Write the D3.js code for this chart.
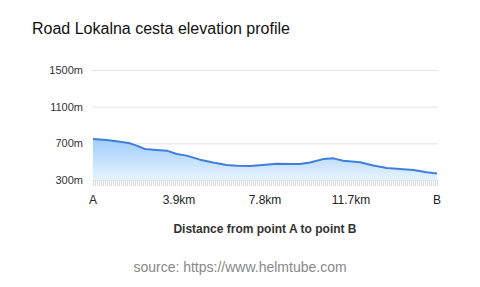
<!DOCTYPE html>
<html>
<head>
<meta charset="utf-8">
<script src="https://cdn.jsdelivr.net/npm/d3@7"></script>
<style>
  body { margin: 0; background: #fff; font-family: "Helvetica Neue", Arial, "Liberation Sans", sans-serif; }
</style>
</head>
<body>
<div class="chart"></div>
<script>
// distance along road (km) and elevation (m)
var distKm = [0, 0.62, 1.07, 1.68, 1.98, 2.36, 2.89, 3.34, 3.80, 4.25, 4.85, 5.44, 6.06, 6.52, 7.12, 7.57, 8.33, 8.9, 9.39, 9.84, 10.44, 10.9, 11.35, 12.11, 12.71, 13.32, 13.92, 14.53, 15.13, 15.6];
var elevM  = [748, 737, 722, 700, 675, 638, 628, 620, 584, 566, 522, 492, 464, 456, 452, 462, 478, 474, 475, 490, 528, 536, 510, 494, 458, 432, 420, 408, 385, 372];
var yTicks = [300, 700, 1100, 1500];
var xTicks = [0, 3.9, 7.8, 11.7, 15.6];
var xTickLabels = ["A", "3.9km", "7.8km", "11.7km", "B"];

var width = 480, height = 287;
var margin = {top: 70, right: 42, bottom: 107, left: 93};

var svg = d3.select(".chart").append("svg")
    .attr("width", width)
    .attr("height", height);

var x = d3.scaleLinear().domain([0, 15.6]).range([margin.left, width - margin.right - 1]);
var y = d3.scaleLinear().domain([300, 1500]).range([180, 70]);

var data = distKm.map(function(d, i){ return {d: d, e: elevM[i]}; });

var defs = svg.append("defs");
var grad = defs.append("linearGradient").attr("id", "fillGrad")
    .attr("x1", 0).attr("y1", 0).attr("x2", 0).attr("y2", 1);
grad.append("stop").attr("offset", "0%").attr("stop-color", "#9fcdfb");
grad.append("stop").attr("offset", "100%").attr("stop-color", "#e6f3ff");

svg.append("text")
    .attr("x", 32).attr("y", 34)
    .attr("font-size", 16)
    .attr("fill", "#111")
    .text("Road Lokalna cesta elevation profile");

// grid
svg.append("g").selectAll("line").data(yTicks).enter().append("line")
    .attr("x1", margin.left - 1).attr("x2", 438)
    .attr("y1", function(d){ return y(d) + 0.5; })
    .attr("y2", function(d){ return y(d) + 0.5; })
    .attr("stroke", "#e4e4e4").attr("stroke-width", 1);

svg.append("g").selectAll("text").data(yTicks).enter().append("text")
    .attr("x", 83).attr("y", function(d){ return y(d) + 4; })
    .attr("text-anchor", "end")
    .attr("font-size", 11)
    .attr("fill", "#333")
    .text(function(d){ return d + "m"; });

var area = d3.area()
    .x(function(d){ return x(d.d); })
    .y0(y(300))
    .y1(function(d){ return y(d.e); });

svg.append("path").datum(data)
    .attr("d", area)
    .attr("fill", "url(#fillGrad)");

var line = d3.line()
    .x(function(d){ return x(d.d); })
    .y(function(d){ return y(d.e); });

svg.append("path").datum(data)
    .attr("d", line)
    .attr("fill", "none")
    .attr("stroke", "#3f7fdc")
    .attr("stroke-width", 2)
    .attr("stroke-linejoin", "round");

// dense little ticks along the bottom
var minor = d3.range(0, 15.6 + 0.001, 15.6 / 172);
svg.append("g").selectAll("line").data(minor).enter().append("line")
    .attr("x1", function(d){ return Math.round(x(d)) + 0.5; })
    .attr("x2", function(d){ return Math.round(x(d)) + 0.5; })
    .attr("y1", 180).attr("y2", 186)
    .attr("stroke", "#dcdcdc").attr("stroke-width", 1);

svg.append("g").selectAll("text").data(xTicks).enter().append("text")
    .attr("x", function(d){ return x(d); })
    .attr("y", 204)
    .attr("text-anchor", "middle")
    .attr("font-size", 12)
    .attr("fill", "#222")
    .text(function(d, i){ return xTickLabels[i]; });

svg.append("text")
    .attr("x", 265).attr("y", 233)
    .attr("text-anchor", "middle")
    .attr("font-size", 12)
    .attr("font-weight", "bold")
    .attr("fill", "#333")
    .text("Distance from point A to point B");

svg.append("text")
    .attr("x", 240).attr("y", 272)
    .attr("text-anchor", "middle")
    .attr("font-size", 14)
    .attr("fill", "#888")
    .text("source: https://www.helmtube.com");
</script>
</body>
</html>
